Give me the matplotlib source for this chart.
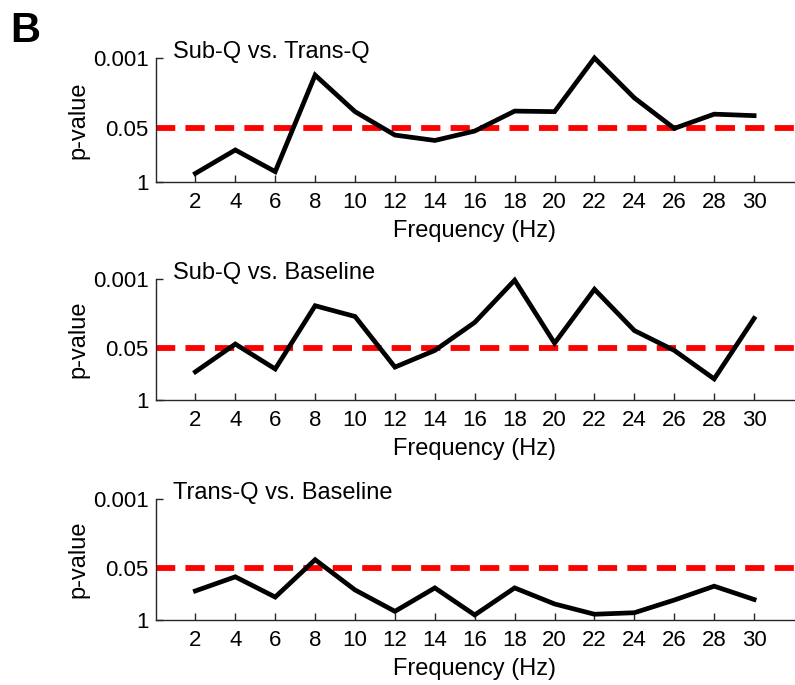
import numpy as np
import matplotlib
matplotlib.use('Agg')
import matplotlib.pyplot as plt

plt.rcParams['font.family'] = ['Liberation Sans', 'DejaVu Sans']

# data: p-values
freqs = [2, 4, 6, 8, 10, 12, 14, 16, 18, 20, 22, 24, 26, 28, 30]
p_sub_trans = [0.63, 0.17, 0.57, 0.0026, 0.020, 0.074, 0.10, 0.059,
               0.0194, 0.020, 0.001, 0.0093, 0.051, 0.023, 0.025]
p_sub_base = [0.20, 0.041, 0.17, 0.0046, 0.0085, 0.153, 0.059, 0.0119,
              0.00107, 0.039, 0.0018, 0.019, 0.059, 0.30, 0.0095]
p_trans_base = [0.19, 0.085, 0.27, 0.032, 0.18, 0.61, 0.16, 0.75,
                0.16, 0.40, 0.72, 0.66, 0.32, 0.145, 0.31]
titles = ['Sub-Q vs. Trans-Q', 'Sub-Q vs. Baseline', 'Trans-Q vs. Baseline']
alpha = 0.05
yticks = [1, 0.05, 0.001]
ytick_labels = ['1', '0.05', '0.001']

W, H = 795, 685
fig = plt.figure(figsize=(W/100, H/100), dpi=100)

# panel extents in pixels (top, bottom) measured from the top of the image
panels = [(58, 181.7), (279, 400), (499, 620)]
x0, x1 = 155.5, 794
fs_tick = 16
fs_lab = 17
spine_col = '#262626'

for (top, bot), title, pv in zip(panels, titles, [p_sub_trans, p_sub_base, p_trans_base]):
    ax = fig.add_axes([x0/W, 1 - bot/H, (x1 - x0)/W, (bot - top)/H])
    ax.axhline(alpha, color='#ff0000', lw=4.2, dashes=(3.3, 1.75), zorder=2)
    ax.plot(freqs, pv, color='black', lw=3.4, solid_joinstyle='miter', zorder=3, clip_on=False)
    ax.set_yscale('log')
    ax.set_ylim(1, 0.001)
    ax.set_xlim(0, 32)
    ax.set_xticks(freqs)
    ax.set_yticks(yticks)
    ax.set_yticklabels(ytick_labels)
    ax.minorticks_off()
    for s in ['top', 'right']:
        ax.spines[s].set_visible(False)
    for s in ['left', 'bottom']:
        ax.spines[s].set_color(spine_col)
        ax.spines[s].set_linewidth(1.0)
    ax.tick_params(direction='in', length=5, width=1.0, color=spine_col,
                   labelsize=fs_tick, labelcolor='black')
    ax.tick_params(axis='x', pad=7.5)
    ax.tick_params(axis='y', pad=5)
    ax.set_xlabel('Frequency (Hz)', fontsize=fs_lab)
    ax.set_ylabel('p-value', fontsize=fs_lab)
    h = bot - top
    ax.xaxis.set_label_coords(0.5, -38/h)
    ax.yaxis.set_label_coords(-(155.5 - 89)/(x1 - x0), 0.5)
    ax.text(17.5/(x1 - x0), 1.0, title, transform=ax.transAxes, fontsize=fs_lab,
            va='baseline', ha='left')

fig.text(10/W, 1 - 42.5/H, 'B', fontsize=30, fontweight='bold', va='baseline', ha='left')

fig.savefig('out.png', dpi=100)
